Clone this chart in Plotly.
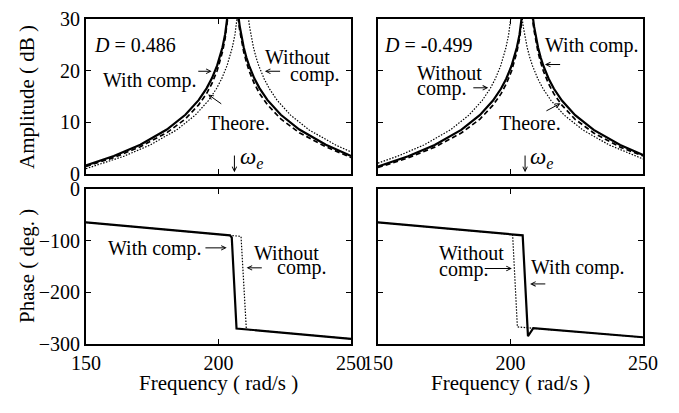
import plotly.graph_objects as go
from plotly.subplots import make_subplots

# ---------------- Amplitude, D = 0.486 ----------------
tl_freq_comp = [150, 160.5, 170.5, 180.5, 187.5, 192.5, 195.5, 197.5, 199.5, 200.5, 201.5, 202.5, 203, 203.5,
                204, 204.5, 205.5, 206.5, 207, 207.5, 208, 208.5, 209.5, 210.5, 211.5, 213.5, 215.5, 218.5,
                223.5, 230.5, 240.5, 250]
tl_amp_comp = [1.70, 3.53, 5.71, 8.63, 11.48, 14.31, 16.59, 18.53, 21.03, 22.61, 24.55, 27.05, 28.63, 30.57,
               33.07, 36.59, 45.0, 36.59, 33.07, 30.57, 28.63, 27.05, 24.55, 22.61, 21.03, 18.53, 16.59, 14.31,
               11.48, 8.63, 5.71, 3.52]
tl_amp_theo = [1.50, 3.23, 5.31, 8.03, 10.68, 13.41, 15.59, 17.53, 20.03, 21.71, 23.65, 26.25, 27.83, 29.77,
               32.27, 35.79, 45.0, 35.79, 32.27, 29.77, 27.83, 26.25, 23.65, 21.71, 20.03, 17.53, 15.59, 13.41,
               10.68, 8.03, 5.31, 3.22]
tl_freq_none = [150, 164.2, 174.2, 184.2, 191.2, 196.2, 199.2, 201.2, 203.2, 204.2, 205.2, 206.2, 206.7, 207.2,
                207.7, 208.2, 209.2, 210.2, 210.7, 211.2, 211.7, 212.2, 213.2, 214.2, 215.2, 217.2, 219.2, 222.2,
                227.2, 234.2, 244.2, 250]
tl_amp_none = [1.07, 3.46, 5.64, 8.56, 11.41, 14.24, 16.52, 18.46, 20.96, 22.54, 24.48, 26.98, 28.56, 30.50,
               33.00, 36.52, 45.0, 36.52, 33.00, 30.50, 28.56, 26.98, 24.48, 22.54, 20.96, 18.46, 16.52, 14.24,
               11.41, 8.56, 5.64, 4.31]

# ---------------- Amplitude, D = -0.499 ----------------
tr_freq_comp = [150, 161.4, 171.4, 181.4, 188.4, 193.4, 196.4, 198.4, 200.4, 201.4, 202.4, 203.4, 203.9, 204.4,
                204.9, 205.4, 206.4, 207.4, 207.9, 208.4, 208.9, 209.4, 210.4, 211.4, 212.4, 214.4, 216.4, 219.4,
                224.4, 231.4, 241.4, 250]
tr_amp_comp = [1.49, 3.46, 5.64, 8.56, 11.41, 14.24, 16.52, 18.46, 20.96, 22.54, 24.48, 26.98, 28.56, 30.50,
               33.00, 36.52, 45.0, 36.52, 33.00, 30.50, 28.56, 26.98, 24.48, 22.54, 20.96, 18.46, 16.52, 14.24,
               11.41, 8.56, 5.64, 3.73]
tr_amp_theo = [1.29, 3.16, 5.24, 7.96, 10.61, 13.34, 15.52, 17.46, 19.96, 21.64, 23.58, 26.18, 27.76, 29.70,
               32.20, 35.72, 45.0, 35.72, 32.20, 29.70, 27.76, 26.18, 23.58, 21.64, 19.96, 17.46, 15.52, 13.34,
               10.61, 7.96, 5.24, 3.53]
tr_freq_none = [150, 157.3, 167.3, 177.3, 184.3, 189.3, 192.3, 194.3, 196.3, 197.3, 198.3, 199.3, 199.8, 200.3,
                200.8, 201.3, 202.3, 203.3, 203.8, 204.3, 204.8, 205.3, 206.3, 207.3, 208.3, 210.3, 212.3, 215.3,
                220.3, 227.3, 237.3, 250]
tr_amp_none = [2.15, 3.46, 5.64, 8.56, 11.41, 14.24, 16.52, 18.46, 20.96, 22.54, 24.48, 26.98, 28.56, 30.50,
               33.00, 36.52, 45.0, 36.52, 33.00, 30.50, 28.56, 26.98, 24.48, 22.54, 20.96, 18.46, 16.52, 14.24,
               11.41, 8.56, 5.64, 2.95]

# ---------------- Phase, D = 0.486 ----------------
bl_freq_comp = [150, 204.3, 205.0, 206.8, 250]
bl_phase_comp = [-65, -90, -94, -270, -290]
bl_freq_none = [150, 208.5, 210.5, 250]
bl_phase_none = [-65, -92, -271.7, -290]

# ---------------- Phase, D = -0.499 ----------------
br_freq_comp = [150, 204.6, 206.6, 208.6, 250]
br_phase_comp = [-65, -90, -285, -269.5, -287]
br_freq_none = [150, 200.8, 202.6, 208.6, 250]
br_phase_none = [-65, -88.4, -267, -269.5, -287]

omega_e_left = 206.0
omega_e_right = 205.5

x_ticks = [150, 200, 250]
amp_ticks = [0, 10, 20, 30]
phase_ticks = [0, -100, -200, -300]

FONT = "Liberation Serif, Times New Roman, serif"
BLACK = "black"

fig = make_subplots(rows=2, cols=2, horizontal_spacing=0.0484, vertical_spacing=0.0448)


def add_line(x, y, row, col, style):
    if style == "solid":
        line = dict(color=BLACK, width=2.2)
    elif style == "dash":
        line = dict(color=BLACK, width=1.7, dash="5px,3px")
    else:
        line = dict(color=BLACK, width=1.2, dash="1.5px,1.5px")
    fig.add_trace(go.Scatter(x=x, y=y, mode="lines", line=line, showlegend=False,
                             hoverinfo="skip"), row=row, col=col)


add_line(tl_freq_none, tl_amp_none, 1, 1, "dot")
add_line(tl_freq_comp, tl_amp_theo, 1, 1, "dash")
add_line(tl_freq_comp, tl_amp_comp, 1, 1, "solid")

add_line(tr_freq_none, tr_amp_none, 1, 2, "dot")
add_line(tr_freq_comp, tr_amp_theo, 1, 2, "dash")
add_line(tr_freq_comp, tr_amp_comp, 1, 2, "solid")

add_line(bl_freq_none, bl_phase_none, 2, 1, "dot")
add_line(bl_freq_comp, bl_phase_comp, 2, 1, "solid")

add_line(br_freq_none, br_phase_none, 2, 2, "dot")
add_line(br_freq_comp, br_phase_comp, 2, 2, "solid")

axis_common = dict(showline=True, linecolor=BLACK, linewidth=1.8, mirror="allticks",
                   ticks="inside", ticklen=5, tickwidth=1, tickcolor=BLACK,
                   showgrid=False, zeroline=False,
                   tickfont=dict(family=FONT, size=20, color=BLACK))

for r in (1, 2):
    for c in (1, 2):
        fig.update_xaxes(range=[150, 250], tickvals=x_ticks, showticklabels=(r == 2),
                         row=r, col=c, **axis_common)
for c in (1, 2):
    fig.update_yaxes(range=[0, 30], tickvals=amp_ticks, showticklabels=(c == 1),
                     row=1, col=c, **axis_common)
    fig.update_yaxes(range=[-300, 0], tickvals=phase_ticks, showticklabels=(c == 1),
                     row=2, col=c, **axis_common)

annotations = []


def text(s, x, y, xref, yref, xanchor="center", size=20):
    annotations.append(dict(text=s, x=x, y=y, xref=xref, yref=yref, xanchor=xanchor,
                            yanchor="middle", showarrow=False,
                            font=dict(family=FONT, size=size, color=BLACK)))


def arrow(x0, y0, x1, y1, xref, yref):
    annotations.append(dict(text="", x=x1, y=y1, ax=x0, ay=y0, xref=xref, yref=yref,
                            axref=xref, ayref=yref, showarrow=True, arrowhead=5,
                            arrowsize=0.9, arrowwidth=1, arrowcolor=BLACK, standoff=0,
                            startstandoff=0, font=dict(family=FONT, size=20, color=BLACK)))


# top-left panel
text("<i>D</i> = 0.486", 152.3, 24.9, "x", "y", "left")
text("With comp.", 174.0, 18.1, "x", "y")
arrow(191.8, 19.9, 197.4, 19.9, "x", "y")
text("Theore.", 207.7, 9.9, "x", "y")
arrow(201.6, 13.4, 196.1, 15.4, "x", "y")
text("Without", 229.8, 22.7, "x", "y")
text("comp.", 236.4, 19.3, "x", "y")
arrow(223.8, 19.9, 217.5, 19.9, "x", "y")
text("<i>ω</i><sub><i>e</i></sub>", omega_e_left + 1.2, 3.2, "x", "y", "left", size=23)
arrow(omega_e_left, 3.9, omega_e_left, 0.4, "x", "y")

# top-right panel
text("<i>D</i> = -0.499", 151.4, 24.9, "x2", "y2", "left")
text("With comp.", 230.6, 24.9, "x2", "y2")
arrow(219.3, 21.2, 213.0, 21.2, "x2", "y2")
text("Without", 164.0, 19.6, "x2", "y2", "left")
text("comp.", 164.0, 16.5, "x2", "y2", "left")
arrow(185.4, 16.7, 191.6, 16.7, "x2", "y2")
text("Theore.", 207.3, 9.9, "x2", "y2")
arrow(213.0, 12.1, 218.9, 13.7, "x2", "y2")
text("<i>ω</i><sub><i>e</i></sub>", omega_e_right + 1.1, 3.2, "x2", "y2", "left", size=23)
arrow(omega_e_right, 3.9, omega_e_right, 0.4, "x2", "y2")

# bottom-left panel
text("With comp.", 176.2, -115.5, "x3", "y3")
arrow(194.5, -114.2, 203.1, -114.2, "x3", "y3")
text("Without", 225.7, -124.8, "x3", "y3")
text("comp.", 231.4, -152.8, "x3", "y3")
arrow(216.9, -152.8, 210.6, -152.8, "x3", "y3")

# bottom-right panel
text("Without", 172.2, -124.8, "x4", "y4", "left")
text("comp.", 172.2, -156.0, "x4", "y4", "left")
arrow(189.7, -154.1, 200.5, -154.1, "x4", "y4")
text("With comp.", 207.0, -152.8, "x4", "y4", "left")
arrow(213.7, -183.9, 207.4, -183.9, "x4", "y4")

# axis titles
annotations.append(dict(text="Amplitude ( dB )", x=-0.106, y=0.76, xref="paper", yref="paper",
                        textangle=-90, showarrow=False, xanchor="center", yanchor="middle",
                        font=dict(family=FONT, size=21, color=BLACK)))
annotations.append(dict(text="Phase ( deg. )", x=-0.106, y=0.24, xref="paper", yref="paper",
                        textangle=-90, showarrow=False, xanchor="center", yanchor="middle",
                        font=dict(family=FONT, size=21, color=BLACK)))
annotations.append(dict(text="Frequency ( rad/s )", x=0.2379, y=-0.119, xref="paper", yref="paper",
                        showarrow=False, xanchor="center", yanchor="middle",
                        font=dict(family=FONT, size=21, color=BLACK)))
annotations.append(dict(text="Frequency ( rad/s )", x=0.7621, y=-0.119, xref="paper", yref="paper",
                        showarrow=False, xanchor="center", yanchor="middle",
                        font=dict(family=FONT, size=21, color=BLACK)))

fig.update_layout(width=679, height=413, margin=dict(l=86, r=36, t=8, b=69),
                  paper_bgcolor="white", plot_bgcolor="white",
                  font=dict(family=FONT, size=20, color=BLACK),
                  annotations=annotations, showlegend=False)

fig.write_html("out.html")
